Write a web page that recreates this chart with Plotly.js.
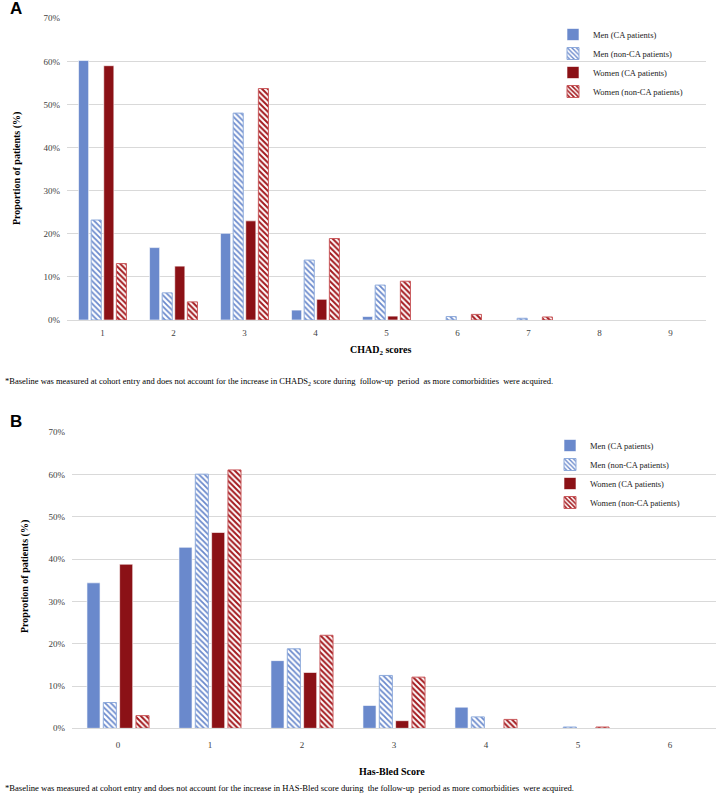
<!DOCTYPE html>
<html>
<head>
<meta charset="utf-8">
<script src="https://cdn.plot.ly/plotly-3.0.1.min.js"></script>
<style>html,body{margin:0;padding:0;background:#fff;}#chart{width:718px;height:795px;}</style>
</head>
<body>
<div id="chart"></div>
<script>
// Panel A: CHADS2 scores
const chadsCategories = ["1","2","3","4","5","6","7","8","9"];
const chadsMenCA      = [60.2, 16.8, 20.1, 2.3, 0.8, 0, 0, 0, 0];
const chadsMenNonCA   = [23.2, 6.3, 48.0, 13.9, 8.1, 0.8, 0.4, 0, 0];
const chadsWomenCA    = [59.0, 12.5, 23.0, 4.8, 0.9, 0, 0, 0, 0];
const chadsWomenNonCA = [13.1, 4.2, 53.7, 18.9, 9.0, 1.3, 0.7, 0, 0];

// Panel B: HAS-BLED scores
const hasbledCategories = ["0","1","2","3","4","5","6"];
const hbMenCA      = [34.4, 42.8, 16.0, 5.4, 5.0, 0, 0];
const hbMenNonCA   = [6.1, 60.1, 18.8, 12.5, 2.7, 0.3, 0];
const hbWomenCA    = [38.8, 46.3, 13.2, 1.8, 0, 0, 0];
const hbWomenNonCA = [3.0, 61.1, 22.0, 12.1, 2.1, 0.3, 0];

const seriesNames = ["Men (CA patients)", "Men (non-CA patients)", "Women (CA patients)", "Women (non-CA patients)"];
const yTickVals = [0, 10, 20, 30, 40, 50, 60, 70];
const yTickText = ["0%", "10%", "20%", "30%", "40%", "50%", "60%", "70%"];

const BLUE = '#6a89cc', DARKRED = '#8b1116', HATCHRED = '#a3191e';
const serif = 'Liberation Serif, Times New Roman, serif';

function styles(i, vals) {
  const w = base => vals.map(v => (v > 0 ? base : 0));
  if (i === 0) return {color: BLUE, line: {color: '#ffffff', width: w(0.6)}};
  if (i === 1) return {color: '#ffffff', line: {color: '#8eaadb', width: w(1)},
    pattern: {shape: '\\', fgcolor: BLUE, bgcolor: '#ffffff', size: 4, solidity: 0.45, fillmode: 'replace'}};
  if (i === 2) return {color: DARKRED, line: {color: '#ffffff', width: w(0.6)}};
  return {color: '#ffffff', line: {color: '#c9595c', width: w(1)},
    pattern: {shape: '\\', fgcolor: HATCHRED, bgcolor: '#ffffff', size: 4, solidity: 0.5, fillmode: 'replace'}};
}

const dataA = [chadsMenCA, chadsMenNonCA, chadsWomenCA, chadsWomenNonCA];
const dataB = [hbMenCA, hbMenNonCA, hbWomenCA, hbWomenNonCA];
const traces = [];
dataA.forEach((vals, i) => traces.push({
  type: 'bar', x: chadsCategories, y: vals, name: seriesNames[i],
  xaxis: 'x', yaxis: 'y', legend: 'legend', marker: styles(i, vals), hoverinfo: 'y+name'
}));
dataB.forEach((vals, i) => traces.push({
  type: 'bar', x: hasbledCategories, y: vals, name: seriesNames[i],
  xaxis: 'x2', yaxis: 'y2', legend: 'legend2', marker: styles(i, vals), hoverinfo: 'y+name'
}));

const W = 718, H = 795;
const px = v => v / W, py = v => 1 - v / H;

function yAxis(domain, anchor) {
  return {
    domain: domain, anchor: anchor, range: [0, 70], tickmode: 'array', tickvals: yTickVals, ticktext: yTickText,
    showgrid: true, gridcolor: '#d9d9d9', gridwidth: 1, zeroline: false, showline: false,
    ticks: '', ticklabelstandoff: 6, tickfont: {family: serif, size: 9, color: '#404040'}, fixedrange: true
  };
}
function xAxis(domain, anchor, standoff) {
  return {
    domain: domain, anchor: anchor, type: 'category', showgrid: false, zeroline: false,
    showline: true, linecolor: '#d9d9d9', linewidth: 1, ticks: '', ticklabelstandoff: standoff,
    tickfont: {family: serif, size: 9, color: '#404040'}, fixedrange: true
  };
}

const ann = (text, x, y, opts) => Object.assign({text: text, x: px(x), y: py(y), xref: 'paper', yref: 'paper',
  xanchor: 'center', yanchor: 'middle', showarrow: false}, opts);

const layout = {
  width: W, height: H,
  margin: {l: 0, r: 0, t: 0, b: 0},
  paper_bgcolor: '#ffffff', plot_bgcolor: '#ffffff',
  barmode: 'group', bargap: 0.29, bargroupgap: 0.2,
  xaxis: xAxis([px(67), px(706)], 'y', 4),
  yaxis: yAxis([py(320), py(18.3)], 'x'),
  xaxis2: xAxis([px(72), px(716)], 'y2', 8),
  yaxis2: yAxis([py(728.3), py(432.3)], 'x2'),
  legend: {x: px(553), y: py(20), xanchor: 'left', yanchor: 'top', bgcolor: 'rgba(0,0,0,0)',
    font: {family: serif, size: 8.5, color: '#222'}, itemwidth: 30, tracegroupgap: 0},
  legend2: {x: px(550), y: py(431), xanchor: 'left', yanchor: 'top', bgcolor: 'rgba(0,0,0,0)',
    font: {family: serif, size: 8.5, color: '#222'}, itemwidth: 30, tracegroupgap: 0},
  showlegend: true,
  annotations: [
    ann('<b>A</b>', 16, 9, {font: {family: 'Liberation Sans, Arial, sans-serif', size: 17, color: '#000'}}),
    ann('<b>B</b>', 16, 421, {font: {family: 'Liberation Sans, Arial, sans-serif', size: 17, color: '#000'}}),
    ann('<b>Proportion of patients (%)</b>', 17, 169, {textangle: -90, font: {family: serif, size: 10, color: '#000'}}),
    ann('<b>Proprotion of patients (%)</b>', 25, 577, {textangle: -90, font: {family: serif, size: 10, color: '#000'}}),
    ann('<b>CHAD<sub>2</sub> scores</b>', 380, 350, {font: {family: serif, size: 10, color: '#000'}}),
    ann('<b>Has-Bled Score</b>', 392, 771, {font: {family: serif, size: 10, color: '#000'}}),
    ann('*Baseline was measured at cohort entry and does not account for the increase in CHADS<sub>2</sub> score during  follow-up  period  as more comorbidities  were acquired.',
      3, 381, {xanchor: 'left', font: {family: serif, size: 8.5, color: '#000'}}),
    ann('*Baseline was measured at cohort entry and does not account for the increase in HAS-Bled score during  the follow-up  period as more comorbidities  were acquired.',
      3, 788, {xanchor: 'left', font: {family: serif, size: 8.6, color: '#000'}})
  ]
};

Plotly.newPlot('chart', traces, layout, {displayModeBar: false, staticPlot: true});
</script>
</body>
</html>
